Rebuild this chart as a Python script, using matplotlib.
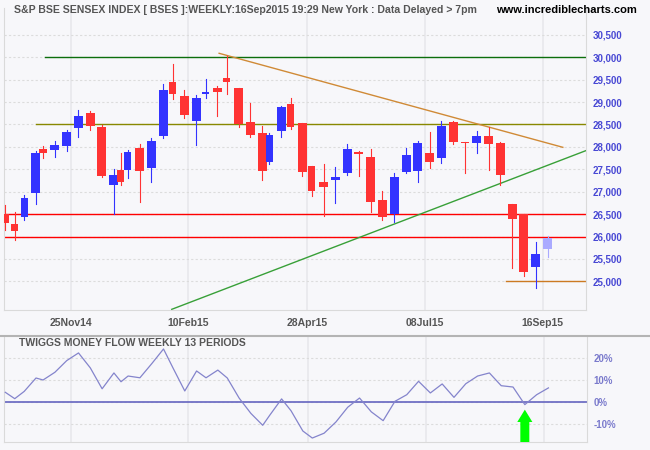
import numpy as np
import matplotlib
matplotlib.use("Agg")
import matplotlib.pyplot as plt
from matplotlib.patches import FancyArrow

# weekly candles, Sensex
week_sessions = [4, 4, 4, 5, 3, 5, 5, 5, 5, 5, 5, 3, 3, 5, 5, 5, 4, 5, 5, 4,
                 5, 4, 5, 5, 5, 3, 5, 4, 5, 4, 5, 5, 5, 5, 5, 5, 5, 5, 5, 5,
                 5, 5, 5, 5, 5, 5, 5, 5, 5, 5]
opens = [26500, 26280, 26440, 26980, 27950, 27940, 28020, 28430, 28755, 28445,
         27155, 27485, 27490, 27975, 27535, 28250, 29450, 29135, 28585, 29190,
         29315, 29530, 29315, 28555, 28310, 27670, 28360, 28960, 28535, 27575,
         27215, 27270, 27425, 27895, 27775, 26815, 26495, 27445, 27470, 27865,
         27760, 28550, 28115, 28095, 28245, 28085, 26725, 26500, 25325, 25730]
highs = [26700, 26540, 26930, 27910, 28020, 28130, 28370, 28825, 28800, 28480,
         27505, 27865, 27930, 28065, 28200, 29405, 29850, 29270, 29160, 29515,
         29360, 30030, 29320, 28980, 28465, 28310, 28920, 29090, 28540, 27580,
         27620, 27550, 28070, 27915, 27955, 27020, 27420, 27975, 28125, 28335,
         28580, 28580, 28120, 28355, 28440, 28110, 26730, 26500, 25880, 26010]
lows = [26150, 25920, 26370, 26725, 27750, 27780, 27915, 28220, 28385, 27330,
        26495, 27155, 27315, 26770, 27225, 28205, 29075, 28650, 28050, 29100,
        28695, 29175, 28450, 28230, 27270, 27625, 28230, 28400, 27355, 26910,
        26450, 26755, 27380, 27355, 26555, 26360, 26330, 27425, 27225, 27530,
        27645, 28070, 27425, 27870, 27485, 27145, 25305, 25125, 24855, 25550]
closes = [26310, 26130, 26860, 27865, 27870, 28045, 28335, 28690, 28475, 27355,
          27375, 27225, 27885, 27470, 28130, 29270, 29190, 28720, 29090, 29225,
          29230, 29455, 28520, 28270, 27470, 28265, 28890, 28445, 27445, 27020,
          27110, 27330, 27955, 27850, 26775, 26440, 27330, 27820, 28085, 27670,
          28465, 28110, 28095, 28245, 28070, 27380, 26400, 25215, 25610, 25965]

# Twiggs money flow (13 periods), percent
money_flow = [4.4, 1.5, 4.8, 10.9, 10.0, 13.5, 18.8, 22.3, 15.5, 6.0,
              13.2, 9.2, 11.8, 11.0, 17.4, 24.1, 15.5, 5.0, 14.1, 11.0,
              14.5, 10.9, 1.8, -5.2, -10.6, -6.0, 1.4, -4.0, -13.2, -16.4,
              -14.2, -9.1, -2.4, 1.8, -4.5, -8.5, 0.3, 3.3, 9.4, 4.1,
              8.2, 2.1, 8.3, 11.8, 13.2, 7.4, 6.8, -1.2, 3.3, 6.4]

tick_pos = [32, 81.5, 132, 182, 232]
tick_labels = ["25Nov14", "10Feb15", "28Apr15", "08Jul15", "16Sep15"]

# support / resistance lines: (price, start, colour)
levels = [(30000, 20.8, "#0c6e0c"), (28500, 17.0, "#888800"),
          (26500, 3.45, "#ff0000"), (26000, 3.45, "#ff0000"),
          (25000, 216.4, "#cc7a22")]
down_trend = ([94.7, 240.5], [30089, 27991])
up_trend = ([74.6, 250.2], [24375, 27915])
arrow_week = 47

x = np.cumsum(week_sessions)
xmin, xmax = 3.45, 250.2
bg = "#f7f7fa"
grid_c = "#dcdcdc"

fig = plt.figure(figsize=(6.5, 4.5), dpi=100, facecolor=bg)
ax = fig.add_axes([4 / 650, 1 - 310 / 450, 581.7 / 650, 302 / 450])
mf = fig.add_axes([4 / 650, 1 - 442 / 450, 582.7 / 650, 106 / 450])

for a in (ax, mf):
    a.set_facecolor(bg)
    a.set_xlim(xmin, xmax)
    a.set_xticks(tick_pos)
    a.grid(axis="x", color="#e8e8ec", lw=1.2)
    a.grid(axis="y", color=grid_c, lw=0.8, ls=(0, (2, 2)))
    a.yaxis.tick_right()
    a.tick_params(length=0)
    for side in ("left", "right", "bottom"):
        a.spines[side].set_color("#dadada")
    a.spines["top"].set_visible(False)
    a.set_axisbelow(True)

# main panel
ax.set_ylim(24360, 31100)
ax.set_yticks(range(25000, 31000, 500))
ax.set_yticklabels([f"{v:,}" for v in range(25000, 31000, 500)],
                   fontsize=7, fontweight="bold", color="#4848d4",
                   family="Liberation Sans")
ax.set_xticklabels(tick_labels, fontsize=7.5, fontweight="bold",
                   color="#555555", family="Liberation Sans")
ax.tick_params(axis="y", pad=5)
ax.tick_params(axis="x", pad=6)

for price, start, col in levels:
    ax.plot([start, xmax], [price, price], color=col, lw=1.0, zorder=2)
ax.plot(*down_trend, color="#d08a36", lw=1.0, zorder=2)
ax.plot(*up_trend, color="#38a038", lw=1.0, zorder=2)

for i in range(len(x)):
    o, h, l, c = opens[i], highs[i], lows[i], closes[i]
    if i == len(x) - 1:
        col = "#aaaaff"
    elif c >= o:
        col = "#3333ff"
    else:
        col = "#ff3333"
    w = 3.8 if week_sessions[i] >= 5 else 3.0
    ax.plot([x[i], x[i]], [l, h], color=col, lw=0.8, zorder=3)
    ax.bar(x[i], abs(c - o), bottom=min(o, c), width=w, color=col,
           zorder=4, linewidth=0)

# money flow panel
mf.set_ylim(-18.2, 30)
mf.set_yticks([-10, 0, 10, 20])
mf.set_yticklabels(["-10%", "0%", "10%", "20%"], fontsize=7,
                   fontweight="bold", color="#7a7acc", family="Liberation Sans")
mf.set_xticklabels([])
mf.axhline(0, color="#7070c4", lw=1.3, zorder=2)
mf.tick_params(axis="y", pad=5)
mf.plot(x, money_flow, color="#8484cc", lw=0.9, zorder=3)
mf.add_patch(FancyArrow(x[arrow_week], -18.2, 0, 14.7, width=3.8,
                        head_width=6.4, head_length=5.6,
                        length_includes_head=True, color="#00ff00",
                        lw=0, zorder=5))
mf.text(15 / 582.7, 0.93, "TWIGGS MONEY FLOW WEEKLY 13 PERIODS",
        transform=mf.transAxes, fontsize=7.5, fontweight="bold",
        color="#555555", va="center", family="Liberation Sans")

# separator and titles
fig.add_artist(plt.Line2D([0, 1], [1 - 335.5 / 450] * 2, color="#b4b4b4",
                          lw=1.5))
fig.text(14 / 650, 1 - 10 / 450,
         "S&P BSE SENSEX INDEX [ BSES ]:WEEKLY:16Sep2015 19:29 New York : Data Delayed > 7pm",
         fontsize=7.6, fontweight="bold", color="#555555", va="center",
         family="Liberation Sans")
fig.text(637 / 650, 1 - 10 / 450, "www.incrediblecharts.com", ha="right",
         fontsize=8, fontweight="bold", color="black", va="center",
         family="Liberation Sans")

fig.savefig("out.png", dpi=100, facecolor=bg)
